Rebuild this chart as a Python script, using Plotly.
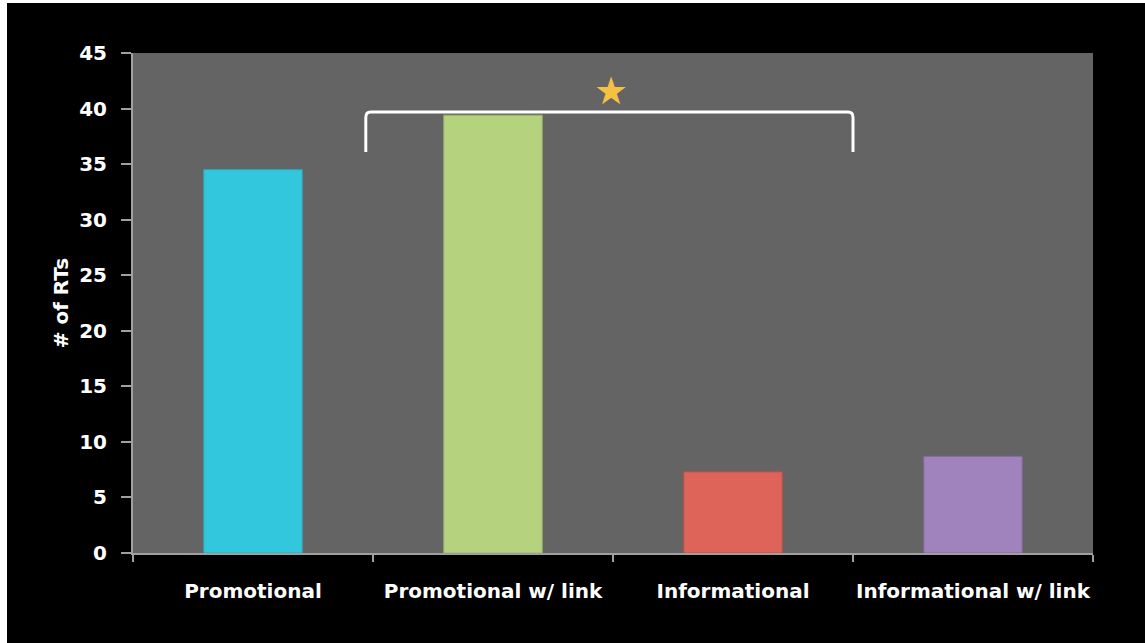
import plotly.graph_objects as go

categories = ["Promotional", "Promotional w/ link", "Informational", "Informational w/ link"]
rts = [34.5, 39.4, 7.3, 8.7]
bar_colors = ["#33C7DD", "#B5D37F", "#DE6359", "#A083BD"]
bar_edges = ["#2AA9BE", "#98B466", "#BF5249", "#85689F"]
y_ticks = [0, 5, 10, 15, 20, 25, 30, 35, 40, 45]

W, H = 1145, 643
ML, MR, MT, MB = 133, 52, 53, 90
PW, PH = W - ML - MR, H - MT - MB

fig = go.Figure()
fig.add_trace(go.Bar(
    x=categories, y=rts, width=0.41,
    marker=dict(color=bar_colors, line=dict(color=bar_edges, width=1)),
    hoverinfo="x+y", showlegend=False,
))

# significance bracket between Promotional w/ link and Informational
fig.add_shape(type="path",
              path="M 0.47,36.1 L 0.47,39.2 Q 0.47,39.7 0.49,39.7 L 2.48,39.7 Q 2.5,39.7 2.5,39.2 L 2.5,36.1",
              xref="x", yref="y", line=dict(color="white", width=3))
fig.add_annotation(x=1.49, y=41.6, xref="x", yref="y", text="★", showarrow=False,
                   font=dict(family="DejaVu Sans", size=38, color="#F6C143"))

# white strips at the left and top edges (cropped slide)
fig.add_shape(type="rect", xref="paper", yref="paper",
              x0=-ML / PW, x1=-(ML - 7) / PW, y0=-MB / PH, y1=1 + MT / PH,
              fillcolor="white", line=dict(width=0), layer="above")
fig.add_shape(type="rect", xref="paper", yref="paper",
              x0=-ML / PW, x1=1 + MR / PW, y0=1 + (MT - 3) / PH, y1=1 + MT / PH,
              fillcolor="white", line=dict(width=0), layer="above")

font_name = "DejaVu Sans"
lab = dict(family=font_name, size=20, color="white", weight="bold")
fig.update_layout(
    width=W, height=H,
    margin=dict(l=ML, r=MR, t=MT, b=MB, autoexpand=False),
    paper_bgcolor="black", plot_bgcolor="#646464",
    bargap=0.59,
    xaxis=dict(
        type="category", categoryorder="array", categoryarray=categories,
        range=[-0.5, 3.5], showgrid=False, zeroline=False, automargin=False,
        showline=True, linecolor="#A0A0A0", linewidth=2,
        ticks="outside", tickson="boundaries", ticklen=7, tickcolor="#A0A0A0", tickwidth=2,
        tickfont=lab, ticklabelstandoff=19, tickangle=0,
    ),
    yaxis=dict(
        range=[0, 45], tickvals=y_ticks, showgrid=False, zeroline=False, automargin=False,
        showline=True, linecolor="#A0A0A0", linewidth=2,
        ticks="outside", ticklen=10, tickcolor="#A0A0A0", tickwidth=2,
        tickfont=lab, ticklabelstandoff=10,
        title=dict(text="# of RTs", font=lab, standoff=5),
    ),
)

fig.write_html(
    "out.html", config={"displayModeBar": False},
    post_script=("document.documentElement.style.overflow='hidden';"
                 "document.documentElement.style.background='black';"
                 "document.body.style.margin='0';document.body.style.overflow='hidden';"
                 "document.body.style.background='black';"),
)
